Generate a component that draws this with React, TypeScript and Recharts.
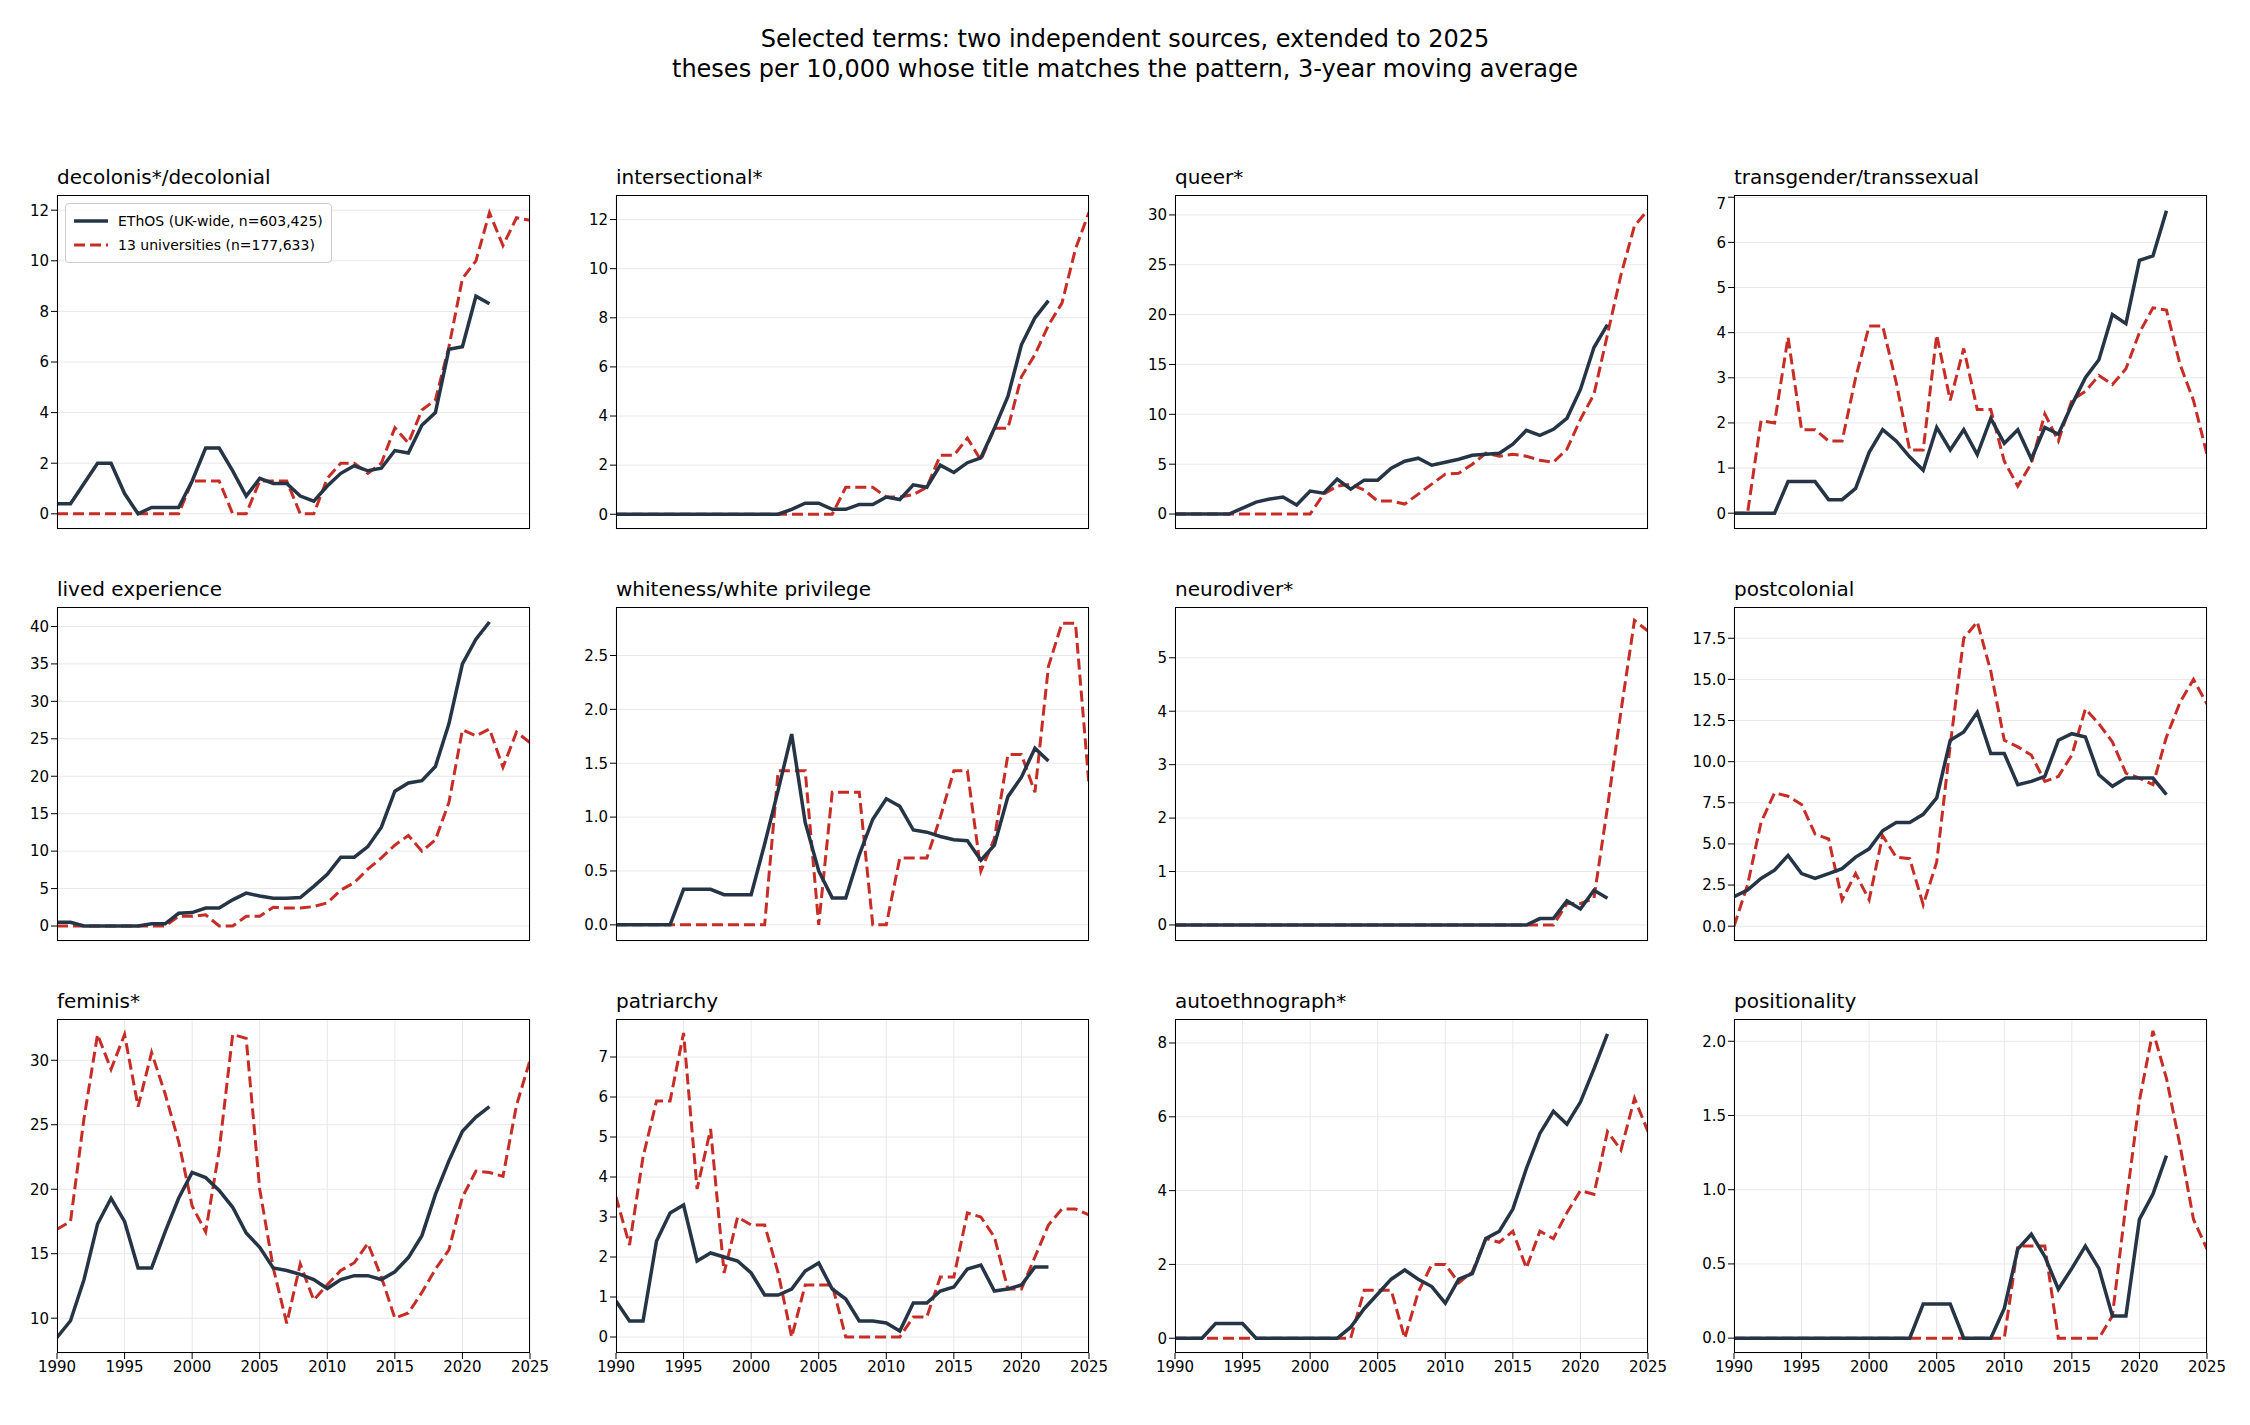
import React from 'react';
import { LineChart, Line, CartesianGrid, XAxis, YAxis } from 'recharts';

const years = Array.from({ length: 36 }, (_, i) => 1990 + i);

const titles = [
  'decolonis*/decolonial', 'intersectional*', 'queer*', 'transgender/transsexual',
  'lived experience', 'whiteness/white privilege', 'neurodiver*', 'postcolonial',
  'feminis*', 'patriarchy', 'autoethnograph*', 'positionality',
];

// EThOS values, 1990–2022
const ethos: number[][] = [
  [0.4, 0.4, 1.2, 2.0, 2.0, 0.8, 0, 0.25, 0.25, 0.25, 1.3, 2.6, 2.6, 1.7, 0.7, 1.4, 1.2, 1.2, 0.7, 0.5, 1.1, 1.6, 1.9, 1.7, 1.8, 2.5, 2.4, 3.5, 4.0, 6.5, 6.6, 8.6, 8.3],
  [0, 0, 0, 0, 0, 0, 0, 0, 0, 0, 0, 0, 0, 0.2, 0.45, 0.45, 0.2, 0.2, 0.4, 0.4, 0.7, 0.6, 1.2, 1.1, 2.0, 1.7, 2.1, 2.3, 3.5, 4.8, 6.9, 8.0, 8.7],
  [0, 0, 0, 0, 0, 0.6, 1.2, 1.5, 1.7, 0.9, 2.3, 2.1, 3.5, 2.5, 3.4, 3.4, 4.6, 5.3, 5.6, 4.9, 5.2, 5.5, 5.9, 6.0, 6.1, 7.0, 8.4, 7.9, 8.5, 9.6, 12.5, 16.7, 19.0],
  [0, 0, 0, 0, 0.7, 0.7, 0.7, 0.3, 0.3, 0.55, 1.35, 1.85, 1.6, 1.25, 0.95, 1.9, 1.4, 1.85, 1.3, 2.1, 1.55, 1.85, 1.2, 1.9, 1.75, 2.4, 3.0, 3.4, 4.4, 4.2, 5.6, 5.7, 6.7],
  [0.5, 0.5, 0, 0, 0, 0, 0, 0.3, 0.3, 1.7, 1.8, 2.4, 2.4, 3.5, 4.4, 4.0, 3.7, 3.7, 3.8, 5.3, 6.9, 9.2, 9.2, 10.6, 13.2, 18.0, 19.1, 19.4, 21.3, 27.0, 35.0, 38.3, 40.6],
  [0, 0, 0, 0, 0, 0.33, 0.33, 0.33, 0.28, 0.28, 0.28, 0.75, 1.25, 1.77, 0.95, 0.5, 0.25, 0.25, 0.65, 0.98, 1.17, 1.1, 0.88, 0.86, 0.82, 0.79, 0.78, 0.6, 0.74, 1.19, 1.37, 1.64, 1.52],
  [0, 0, 0, 0, 0, 0, 0, 0, 0, 0, 0, 0, 0, 0, 0, 0, 0, 0, 0, 0, 0, 0, 0, 0, 0, 0, 0, 0.12, 0.12, 0.45, 0.3, 0.65, 0.5],
  [1.8, 2.2, 2.9, 3.4, 4.3, 3.2, 2.9, 3.2, 3.5, 4.2, 4.7, 5.8, 6.3, 6.3, 6.8, 7.8, 11.3, 11.8, 13.0, 10.5, 10.5, 8.6, 8.8, 9.1, 11.3, 11.7, 11.5, 9.2, 8.5, 9.0, 9.0, 9.0, 8.0],
  [8.5, 9.8, 13.0, 17.3, 19.3, 17.5, 13.9, 13.9, 16.7, 19.3, 21.3, 20.9, 19.9, 18.6, 16.6, 15.5, 13.9, 13.7, 13.4, 13.0, 12.3, 13.0, 13.3, 13.3, 13.0, 13.6, 14.7, 16.4, 19.6, 22.2, 24.5, 25.6, 26.4],
  [0.9, 0.4, 0.4, 2.4, 3.1, 3.3, 1.9, 2.1, 2.0, 1.9, 1.6, 1.05, 1.05, 1.2, 1.65, 1.85, 1.2, 0.95, 0.4, 0.4, 0.35, 0.15, 0.85, 0.85, 1.15, 1.25, 1.7, 1.8, 1.15, 1.2, 1.3, 1.75, 1.75],
  [0, 0, 0, 0.4, 0.4, 0.4, 0, 0, 0, 0, 0, 0, 0, 0.3, 0.8, 1.2, 1.6, 1.85, 1.6, 1.4, 0.95, 1.6, 1.75, 2.7, 2.9, 3.5, 4.6, 5.55, 6.15, 5.8, 6.4, 7.3, 8.25],
  [0, 0, 0, 0, 0, 0, 0, 0, 0, 0, 0, 0, 0, 0, 0.23, 0.23, 0.23, 0, 0, 0, 0.2, 0.6, 0.7, 0.55, 0.33, 0.47, 0.62, 0.47, 0.15, 0.15, 0.8, 0.97, 1.23],
];

// 13 universities values, 1990–2025
const univ: number[][] = [
  [0, 0, 0, 0, 0, 0, 0, 0, 0, 0, 1.3, 1.3, 1.3, 0, 0, 1.3, 1.3, 1.3, 0, 0, 1.4, 2.0, 2.0, 1.6, 2.0, 3.4, 2.8, 4.1, 4.5, 6.6, 9.3, 10.0, 11.9, 10.6, 11.7, 11.6],
  [0, 0, 0, 0, 0, 0, 0, 0, 0, 0, 0, 0, 0, 0, 0, 0, 0, 1.1, 1.1, 1.1, 0.7, 0.7, 0.8, 1.1, 2.4, 2.4, 3.1, 2.2, 3.5, 3.5, 5.6, 6.5, 7.7, 8.6, 10.8, 12.3],
  [0, 0, 0, 0, 0, 0, 0, 0, 0, 0, 0, 2.0, 2.8, 3.0, 2.4, 1.3, 1.3, 1.0, 2.0, 3.0, 4.0, 4.1, 5.0, 6.1, 5.8, 6.0, 5.8, 5.4, 5.2, 6.5, 9.5, 12.0, 18.0, 24.0, 28.9, 30.5],
  [0, 0, 2.05, 2.0, 3.9, 1.85, 1.85, 1.6, 1.6, 3.0, 4.15, 4.15, 2.9, 1.4, 1.4, 3.95, 2.5, 3.65, 2.3, 2.3, 1.15, 0.6, 1.1, 2.2, 1.6, 2.5, 2.7, 3.05, 2.85, 3.2, 4.0, 4.55, 4.5, 3.3, 2.5, 1.3],
  [0, 0, 0, 0, 0, 0, 0, 0, 0, 1.3, 1.3, 1.5, 0, 0, 1.3, 1.3, 2.5, 2.4, 2.4, 2.6, 3.1, 4.8, 5.8, 7.6, 9.1, 10.8, 12.1, 10.0, 11.5, 16.5, 26.2, 25.4, 26.3, 21.2, 25.9, 24.5],
  [0, 0, 0, 0, 0, 0, 0, 0, 0, 0, 0, 0, 1.43, 1.43, 1.43, 0, 1.23, 1.23, 1.23, 0, 0, 0.62, 0.62, 0.62, 1.0, 1.43, 1.43, 0.5, 0.8, 1.58, 1.58, 1.23, 2.4, 2.8, 2.8, 1.3],
  [0, 0, 0, 0, 0, 0, 0, 0, 0, 0, 0, 0, 0, 0, 0, 0, 0, 0, 0, 0, 0, 0, 0, 0, 0, 0, 0, 0, 0, 0.4, 0.4, 0.5, 2.2, 4.0, 5.7, 5.5],
  [0, 2.5, 6.3, 8.1, 7.9, 7.4, 5.6, 5.3, 1.6, 3.2, 1.6, 5.5, 4.2, 4.1, 1.3, 3.9, 11.0, 17.5, 18.5, 15.5, 11.3, 10.9, 10.4, 8.8, 9.1, 10.4, 13.2, 12.3, 11.2, 9.3, 9.0, 8.6, 11.5, 13.6, 15.0, 13.5],
  [16.9, 17.5, 25.5, 32.0, 29.3, 32.0, 26.4, 30.6, 27.4, 23.7, 18.7, 16.7, 23.0, 32.0, 31.7, 20.0, 13.9, 9.6, 14.2, 11.4, 12.6, 13.7, 14.3, 15.8, 13.2, 10.0, 10.4, 12.0, 13.8, 15.3, 19.4, 21.4, 21.3, 21.0, 26.5, 30.0],
  [3.5, 2.3, 4.5, 5.9, 5.9, 7.6, 3.7, 5.2, 1.6, 3.0, 2.8, 2.8, 1.6, 0, 1.3, 1.3, 1.3, 0, 0, 0, 0, 0, 0.5, 0.5, 1.5, 1.5, 3.1, 3.0, 2.5, 1.2, 1.2, 2.0, 2.8, 3.2, 3.2, 3.05],
  [0, 0, 0, 0, 0, 0, 0, 0, 0, 0, 0, 0, 0, 0, 1.3, 1.3, 1.3, 0, 1.25, 2.0, 2.0, 1.5, 1.8, 2.7, 2.6, 2.9, 1.9, 2.9, 2.7, 3.4, 4.0, 3.9, 5.6, 5.1, 6.5, 5.6],
  [0, 0, 0, 0, 0, 0, 0, 0, 0, 0, 0, 0.62, 0.62, 0.62, 0, 0, 0, 0, 0.15, 0.9, 1.6, 2.07, 1.75, 1.3, 0.8, 0.6].length === 26
    ? [0, 0, 0, 0, 0, 0, 0, 0, 0, 0, 0, 0, 0, 0, 0, 0, 0, 0, 0, 0, 0, 0.62, 0.62, 0.62, 0, 0, 0, 0, 0.15, 0.9, 1.6, 2.07, 1.75, 1.3, 0.8, 0.6]
    : [],
];

const yDomains: [number, number][] = [
  [-0.6, 12.6], [-0.6, 13], [-1.5, 32], [-0.35, 7.05],
  [-2, 42.6], [-0.15, 2.95], [-0.3, 5.95], [-0.9, 19.4],
  [7.3, 33.2], [-0.4, 7.95], [-0.4, 8.65], [-0.1, 2.15],
];
const yTicks: number[][] = [
  [0, 2, 4, 6, 8, 10, 12], [0, 2, 4, 6, 8, 10, 12], [0, 5, 10, 15, 20, 25, 30], [0, 1, 2, 3, 4, 5, 6, 7],
  [0, 5, 10, 15, 20, 25, 30, 35, 40], [0, 0.5, 1, 1.5, 2, 2.5], [0, 1, 2, 3, 4, 5], [0, 2.5, 5, 7.5, 10, 12.5, 15, 17.5],
  [10, 15, 20, 25, 30], [0, 1, 2, 3, 4, 5, 6, 7], [0, 2, 4, 6, 8], [0, 0.5, 1, 1.5, 2],
];
const xTicks = [1990, 1995, 2000, 2005, 2010, 2015, 2020, 2025];

const DARK = '#263545';
const RED = '#c62d26';
const FONT = 'DejaVu Sans, sans-serif';

const PLOT_W = 473;
const PLOT_H = 334;
const LEFT0 = 57;
const TOP0 = 195;
const DX = 559;
const DY = 412;
const YAXIS_W = 60;
const RIGHT_PAD = 24;

const Panel: React.FC<{ idx: number }> = ({ idx }) => {
  const row = Math.floor(idx / 4);
  const col = idx % 4;
  const left = LEFT0 + col * DX;
  const top = TOP0 + row * DY;
  const data = years.map((y, i) => ({
    year: y,
    e: i < ethos[idx].length ? ethos[idx][i] : undefined,
    u: univ[idx][i],
  }));
  const halfTicks = yTicks[idx].some((t) => !Number.isInteger(t));
  const tickFmt = (v: number) => (halfTicks ? v.toFixed(1) : String(v));
  return (
    <div style={{ position: 'absolute', left: left - YAXIS_W, top: top }}>
      <div style={{ position: 'absolute', left: YAXIS_W, top: -30, fontSize: 20, fontFamily: FONT, whiteSpace: 'nowrap' }}>
        {titles[idx]}
      </div>
      <LineChart width={PLOT_W + YAXIS_W + RIGHT_PAD} height={PLOT_H + 34} data={data} margin={{ top: 0, right: RIGHT_PAD, left: 0, bottom: 0 }}>
        <CartesianGrid stroke='#e8e8e8' strokeWidth={1} />
        <XAxis
          dataKey='year' type='number' domain={[1990, 2025]} ticks={xTicks} height={34}
          tick={row === 2 ? { fill: '#000', fontSize: 15, fontFamily: FONT } : false}
          tickLine={{ stroke: '#000' }} tickSize={6} axisLine={false} allowDataOverflow interval={0}
        />
        <YAxis
          type='number' domain={yDomains[idx]} ticks={yTicks[idx]} width={YAXIS_W} tickFormatter={tickFmt}
          tick={{ fill: '#000', fontSize: 15, fontFamily: FONT }} tickLine={{ stroke: '#000' }} tickSize={6}
          axisLine={false} allowDataOverflow
        />
        <Line dataKey='u' stroke={RED} strokeWidth={3} strokeDasharray='11 5' dot={false} isAnimationActive={false} />
        <Line dataKey='e' stroke={DARK} strokeWidth={3.5} dot={false} isAnimationActive={false} />
      </LineChart>
      <div style={{ position: 'absolute', left: YAXIS_W, top: 0, width: PLOT_W, height: PLOT_H, border: '1.5px solid #000', boxSizing: 'border-box', pointerEvents: 'none' }} />
      {idx === 0 && (
        <div style={{ position: 'absolute', left: YAXIS_W + 8, top: 8, border: '1px solid #ccc', borderRadius: 4, background: 'rgba(255,255,255,0.85)', padding: '5px 8px', fontFamily: FONT, fontSize: 14, lineHeight: '24px' }}>
          <div style={{ display: 'flex', alignItems: 'center' }}>
            <svg width={34} height={10} style={{ marginRight: 10 }}><line x1={0} y1={5} x2={34} y2={5} stroke={DARK} strokeWidth={3.5} /></svg>
            EThOS (UK-wide, n=603,425)
          </div>
          <div style={{ display: 'flex', alignItems: 'center' }}>
            <svg width={34} height={10} style={{ marginRight: 10 }}><line x1={0} y1={5} x2={34} y2={5} stroke={RED} strokeWidth={3} strokeDasharray='11 5' /></svg>
            13 universities (n=177,633)
          </div>
        </div>
      )}
    </div>
  );
};

const App: React.FC = () => (
  <div style={{ position: 'absolute', left: 0, top: 0, width: 2250, height: 1425, background: '#fff', fontFamily: FONT }}>
    <div style={{ position: 'absolute', top: 24, width: '100%', textAlign: 'center', fontSize: 24, lineHeight: '30px' }}>
      Selected terms: two independent sources, extended to 2025<br />
      theses per 10,000 whose title matches the pattern, 3-year moving average
    </div>
    {titles.map((_, i) => <Panel key={i} idx={i} />)}
  </div>
);

export default App;
